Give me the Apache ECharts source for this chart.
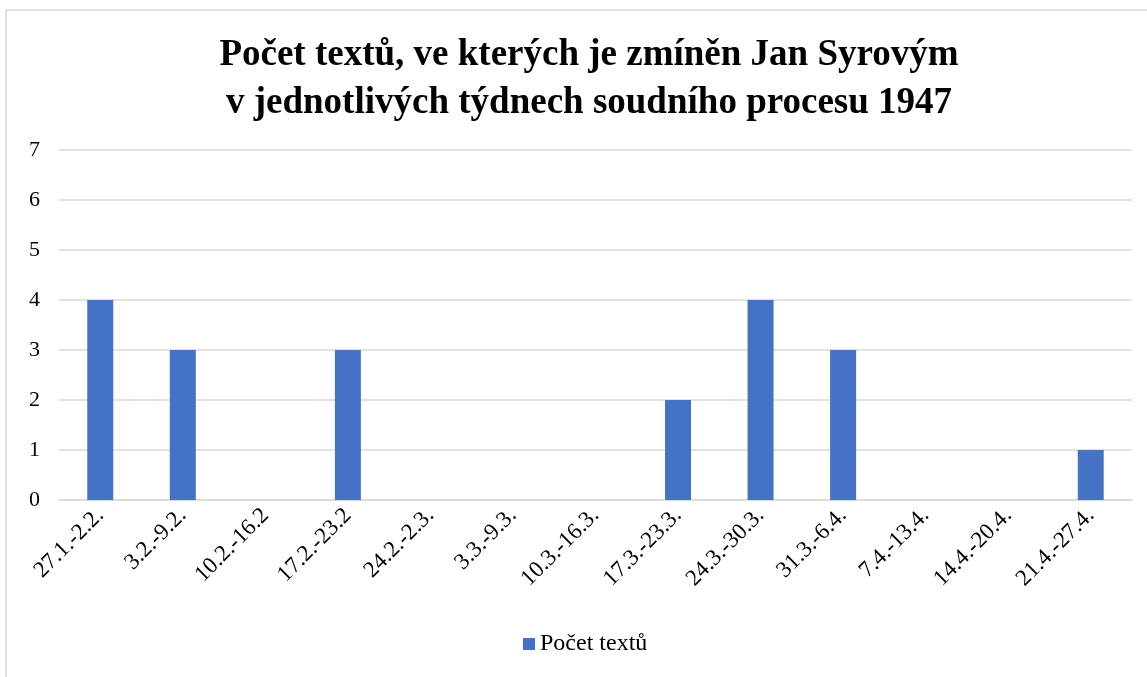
<!DOCTYPE html>
<html><head><meta charset="utf-8">
<script src="https://cdn.jsdelivr.net/npm/echarts@6/dist/echarts.min.js"></script>
<style>html,body{margin:0;padding:0;background:#fff}#c{width:1147px;height:677px}</style>
</head><body><div id="c"></div>
<script>
const categories = ['27.1.-2.2.','3.2.-9.2.','10.2.-16.2','17.2.-23.2','24.2.-2.3.','3.3.-9.3.','10.3.-16.3.','17.3.-23.3.','24.3.-30.3.','31.3.-6.4.','7.4.-13.4.','14.4.-20.4.','21.4.-27.4.'];
const values = [4,3,0,3,0,0,0,2,4,3,0,0,1];
const seriesName = 'Počet textů';
const titleText = 'Počet textů, ve kterých je zmíněn Jan Syrovým\nv jednotlivých týdnech soudního procesu 1947';
const chart = echarts.init(document.getElementById('c'));
const serif = '"Liberation Serif", "Times New Roman", serif';
chart.setOption({
  animation:false,
  graphic:[{type:'rect',shape:{x:6,y:10,width:1160,height:700},style:{fill:'none',stroke:'#d9d9d9',lineWidth:1.5},silent:true,z:-1}],
  title:{text:titleText,left:584,textAlign:'center',top:26,textStyle:{fontFamily:serif,fontWeight:'bold',fontSize:37,lineHeight:48,color:'#000'}},
  legend:{bottom:16,left:518,itemWidth:12,itemHeight:12,itemGap:6,icon:'rect',textStyle:{fontFamily:serif,fontSize:24,color:'#000'}},
  grid:{left:59,right:15,top:150,bottom:177},
  xAxis:{type:'category',data:categories,axisTick:{show:false},axisLine:{lineStyle:{color:'#d9d9d9',width:1.5}},
    axisLabel:{rotate:45,interval:0,fontFamily:serif,fontSize:23,color:'#000',margin:12}},
  yAxis:{type:'value',min:0,max:7,interval:1,axisLine:{show:false},axisTick:{show:false},
    splitLine:{lineStyle:{color:'#d9d9d9',width:1.5}},
    axisLabel:{fontFamily:serif,fontSize:22,color:'#000',margin:19}},
  series:[{name:seriesName,type:'bar',data:values,barWidth:26,itemStyle:{color:'#4472C4'}}]
});
</script></body></html>
